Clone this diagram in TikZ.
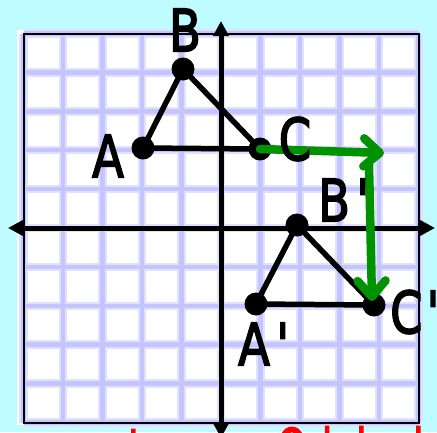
\documentclass[tikz,border=0pt]{standalone}
\usepackage{fontspec}
\setmainfont{DejaVu Sans}
\newfontfamily\lblfont[FakeBold=3]{DejaVu Sans}
\usetikzlibrary{arrows.meta}
\definecolor{bgcyan}{RGB}{190,252,255}
\definecolor{gridsoft}{RGB}{224,224,255}
\definecolor{gridcore}{RGB}{196,196,255}
\definecolor{arrowgreen}{RGB}{0,146,0}
\definecolor{textred}{RGB}{255,0,0}
\tikzset{
  vdot/.style={circle, fill=black, inner sep=0pt, minimum size=23pt},
  triedge/.style={line width=5.5pt, line join=round, line cap=round},
  axisline/.style={line width=5pt, {Triangle[length=15pt,width=15pt]}-{Triangle[length=15pt,width=15pt]}},
  lbl/.style={font=\lblfont\fontsize{58}{58}\selectfont, inner sep=0pt, xscale=0.8},
  redtxt/.style={font=\lblfont\fontsize{52}{52}\selectfont, text=textred, inner sep=0pt, xscale=0.72, anchor=base west},
  greenarrow/.style={draw=arrowgreen, line width=8.5pt, line cap=round, line join=round,
    -{Straight Barb[length=16pt,width=28pt,line cap=round,line join=round]}},
  gridsoftline/.style={draw=gridsoft, line width=8.5pt},
  gridcoreline/.style={draw=gridcore, line width=4.5pt},
}
\begin{document}
\begin{tikzpicture}[x=1pt,y=-1pt]
  \path[use as bounding box, fill=bgcyan] (0,0) rectangle (437,432);
  \clip (0,0) rectangle (437,432);
  % white backing sheet
  \fill[white] (17,30) rectangle (419,425);
  % grid
  \begin{scope}[shift={(221,228)}, x=39.5pt, y=38.9pt]
    \foreach \i in {-5,...,5} {
      \draw[gridsoftline] (\i,-5) -- (\i,5);
      \draw[gridsoftline] (-5,\i) -- (5,\i);
    }
    \foreach \i in {-5,...,5} {
      \draw[gridcoreline] (\i,-5) -- (\i,5);
      \draw[gridcoreline] (-5,\i) -- (5,\i);
    }
    \draw[black, line width=2pt] (-5,-5) rectangle (5,5);
  \end{scope}
  % axes
  \coordinate (xl) at (8,228);
  \coordinate (xr) at (435,228);
  \coordinate (yt) at (221,21);
  \coordinate (yb) at (221,438);
  \draw[axisline] (xl) -- (xr);
  \draw[axisline] (yb) -- (yt);
  % original triangle
  \node[vdot] (A) at (143,148) {};
  \node[vdot] (B) at (183,69) {};
  \node[vdot] (C) at (260,149) {};
  \draw[triedge] (A.center) -- (B.center) -- (C.center) -- cycle;
  % image triangle
  \node[vdot] (A1) at (256,304) {};
  \node[vdot] (B1) at (297,225) {};
  \node[vdot] (C1) at (374,305) {};
  \draw[triedge] (A1.center) -- (B1.center) -- (C1.center) -- cycle;
  % translation arrows
  \coordinate (gcorner) at (384,153);
  \coordinate (gdown) at (369,164);
  \coordinate (gend) at (372,301);
  \draw[greenarrow] (C.center) -- (gcorner);
  \draw[greenarrow] (gdown) -- (gend);
  % labels
  \node[lbl] (lB) at (185,30) {B};
  \node[lbl] (lA) at (108,156) {A};
  \node[lbl] (lC) at (295,139) {C};
  \node[lbl, anchor=west] (lB1) at (318,200) {B\kern8pt\textquotesingle};
  \node[lbl, anchor=west] (lA1) at (238,344) {A\kern8pt\textquotesingle};
  \node[lbl, anchor=west] (lC1) at (390,312) {C\kern5pt\textquotesingle};
  % red caption (cut off at the bottom)
  \node[redtxt] (rt1) at (128,466) {to};
  \node[redtxt] (rt2) at (277,466) {Original};
\end{tikzpicture}
\end{document}
